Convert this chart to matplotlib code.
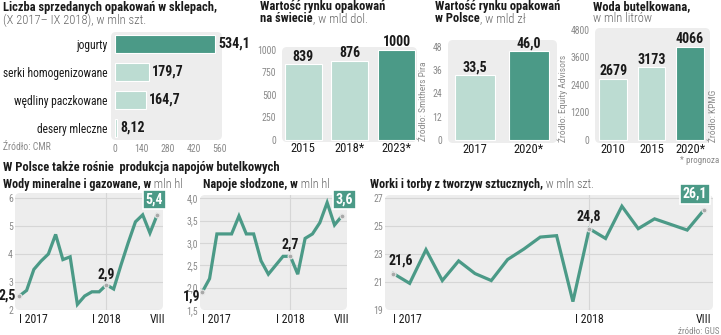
import numpy as np
import matplotlib.pyplot as plt
import matplotlib.font_manager as fm
from matplotlib.patches import FancyBboxPatch

W, H = 721, 335

# dane - panel 1
sklepy_kat = ['jogurty', 'serki homogenizowane', 'wędliny paczkowane', 'desery mleczne']
sklepy_val = [534.1, 179.7, 164.7, 8.12]
sklepy_ticks = [0, 140, 280, 420, 560]

# panel 2 - swiat, mld dol.
swiat_lata = ['2015', '2018*', '2023*']
swiat_val = [839, 876, 1000]
swiat_ticks = [0, 250, 500, 750, 1000]

# panel 3 - Polska, mld zl
polska_lata = ['2017', '2020*']
polska_val = [33.5, 46.0]
polska_ticks = [0, 12, 24, 36, 48]

# panel 4 - woda butelkowana
woda_lata = ['2010', '2015', '2020*']
woda_val = [2679, 3173, 4066]
woda_ticks = [0, 1200, 2400, 3600, 4800]

# wykresy liniowe: I 2017 - VIII 2018
okres_pos = [0, 12, 19]
okres_lab = ['I 2017', 'I 2018', 'VIII']
mineralne = [2.5, 2.7, 3.45, 3.75, 4.0, 4.7, 3.8, 3.9, 2.2, 2.5, 2.65, 2.65,
             2.9, 2.75, 3.6, 4.4, 5.15, 5.4, 4.75, 5.4]
slodzone = [1.9, 2.2, 3.2, 3.2, 3.2, 3.6, 3.2, 3.2, 2.6, 2.3, 2.5, 2.7,
            2.7, 2.3, 3.1, 3.2, 3.45, 3.9, 3.4, 3.6]
worki = [21.6, 20.9, 23.3, 21.1, 22.5, 21.6, 21.1, 22.6, 23.35, 24.2, 24.3, 19.6,
         24.8, 24.1, 26.4, 24.8, 25.5, 25.1, 24.7, 26.1]

DARK = '#4b9a87'
LIGHT = '#bcdcd2'
BG = '#ededed'
GRID = '#d6d6d6'
TXT = '#1a1a1a'
GREY = '#8a8a8a'

avail = {f.name for f in fm.fontManager.ttflist}
NARROW = next((f for f in ['Roboto Condensed', 'Liberation Sans Narrow', 'Open Sans Condensed']
               if f in avail), 'DejaVu Sans')
plt.rcParams['font.family'] = [NARROW, 'DejaVu Sans']

NUM = 10  # rozmiar etykiet wartosci


def pl(v):
    return str(v).replace('.', ',')


def pct(x0, y0, x1, y1):
    return [x0 / W, 1 - y1 / H, (x1 - x0) / W, (y1 - y0) / H]


fig = plt.figure(figsize=(W / 100, H / 100), dpi=100)
rend = fig.canvas.get_renderer()


def ftext(x, y, s, **kw):
    return fig.text(x / W, 1 - y / H, s, **kw)


def title(x, y, parts, size=9):
    for s, bold in parts:
        t = ftext(x, y, s, fontsize=size, va='baseline',
                  fontweight='bold' if bold else 'light',
                  color=TXT if bold else '#666666')
        x += t.get_window_extent(rend).width


def clean(ax, r=5):
    for s in ax.spines.values():
        s.set_visible(False)
    ax.set_facecolor('none')
    bb = ax.get_position()
    wpx, hpx = bb.width * W, bb.height * H
    ax.add_patch(FancyBboxPatch((0, 0), 1, 1, boxstyle=f'round,pad=0,rounding_size={r / wpx}',
                                mutation_aspect=wpx / hpx, transform=ax.transAxes,
                                fc=BG, ec='none', zorder=0, clip_on=False))
    ax.set_axisbelow(True)


# ---------- panel 1 ----------
title(3, 11.5, [('Liczba sprzedanych opakowań w sklepach,', True)])
title(3, 24, [('(X 2017– IX 2018), w mln szt.', False)])
ax = fig.add_axes(pct(111, 32, 222, 140))
clean(ax)
y = np.arange(len(sklepy_kat))
cols = [DARK] + [LIGHT] * 3
ax.barh(y, sklepy_val, height=0.64, color=cols, edgecolor='white', lw=0.8, zorder=2)
ax.set_xlim(-21.3, 570.7)
ax.set_ylim(3.43, -0.43)
ax.set_yticks(y, sklepy_kat)
ax.set_xticks(sklepy_ticks, [str(t) for t in sklepy_ticks])
ax.tick_params(axis='y', length=0, pad=2.5, labelsize=8.3, labelcolor=TXT)
ax.tick_params(axis='x', length=0, pad=3, labelsize=7, labelcolor=GREY)
for yi, v in zip(y, sklepy_val):
    ax.annotate(pl(v), (v, yi), xytext=(2.5, 0), textcoords='offset points', ha='left',
                va='center', fontsize=NUM, fontweight='bold', color=TXT, annotation_clip=False)
ftext(3, 147, 'Źródło: CMR', fontsize=7, color=GREY, va='center')


def bar_panel(box, lata, vals, ticks, xlim, ylim, width, dark_from):
    ax = fig.add_axes(pct(*box))
    clean(ax)
    x = np.arange(len(lata))
    cols = [LIGHT if i < dark_from else DARK for i in x]
    ax.bar(x, vals, width=width, color=cols, edgecolor='white', lw=0.8, zorder=2)
    ax.set_xlim(xlim)
    ax.set_ylim(ylim)
    ax.set_xticks(x, lata)
    ax.set_yticks(ticks, [str(t) for t in ticks])
    ax.tick_params(axis='x', length=0, pad=0, labelsize=9, labelcolor=TXT)
    ax.tick_params(axis='y', length=0, pad=4, labelsize=7, labelcolor=GREY)
    for xi, v in zip(x, vals):
        s = f'{v:.1f}'.replace('.', ',') if isinstance(v, float) else str(v)
        ax.annotate(s, (xi, v), xytext=(0, 0.5), textcoords='offset points', ha='center',
                    va='bottom', fontsize=NUM, fontweight='bold', color=TXT, annotation_clip=False)
    return ax


# ---------- panel 2 ----------
title(260, 10, [('Wartość rynku opakowań', True)])
title(260, 22, [('na świecie', True), (', w mld dol.', False)])
bar_panel((282, 47, 417, 142), swiat_lata, swiat_val, swiat_ticks,
          (-0.45, 2.43), (-22.2, 1033), 0.79, 2)
ftext(423, 141, 'Źródło: Smithers Pira', rotation=90, fontsize=6.8, color=GREY, ha='center', va='bottom')

# ---------- panel 3 ----------
title(435, 10, [('Wartość rynku opakowań', True)])
title(435, 22, [('w Polsce', True), (', w mld zł', False)])
bar_panel((448, 40, 557, 143), polska_lata, polska_val, polska_ticks,
          (-0.5, 1.52), (-1.55, 51.6), 0.74, 1)
ftext(563, 142, 'Źródło: Equity Advisors', rotation=90, fontsize=6.8, color=GREY, ha='center', va='bottom')

# ---------- panel 4 ----------
title(593, 10, [('Woda butelkowana,', True)])
title(593, 22, [('w mln litrów', False)])
bar_panel((595, 28, 710, 143), woda_lata, woda_val, woda_ticks,
          (-0.47, 2.52), (-131, 4887), 0.72, 2)
ftext(714, 142, 'Źródło: KPMG', rotation=90, fontsize=6.8, color=GREY, ha='center', va='bottom')
ftext(719, 160, '* prognoza', fontsize=6.5, color=GREY, ha='right', va='center')

# ---------- linie ----------
title(3, 171, [('W Polsce także rośnie  produkcja napojów butelkowych', True)])


def line_panel(box, vals, ticks, tlabels, xlim, ylim):
    ax = fig.add_axes(pct(*box))
    clean(ax)
    x = np.arange(len(vals))
    ax.plot(x, vals, color=DARK, lw=2.3, solid_joinstyle='miter', zorder=3)
    ax.plot(x[okres_pos], np.array(vals)[okres_pos], 'o', ms=3.5, mfc='#a8a8a8',
            mec='#e8e8e8', mew=0.8, zorder=4)
    ax.set_xlim(xlim)
    ax.set_ylim(ylim)
    ax.set_yticks(ticks, tlabels)
    ax.set_xticks(okres_pos, okres_lab)
    ax.get_xticklabels()[0].set_ha('left')
    ax.grid(axis='y', color=GRID, lw=0.8)
    ax.axvline(12, color=GRID, lw=0.8, zorder=1)
    ax.tick_params(axis='x', length=0, pad=2.5, labelsize=8.5, labelcolor=TXT)
    ax.tick_params(axis='y', length=0, pad=1.5, labelsize=7, labelcolor=GREY)
    return ax


def lab(ax, i, v, s, dx, dy, ha, va):
    ax.annotate(s, (i, v), xytext=(dx, dy), textcoords='offset points', ha=ha, va=va,
                fontsize=NUM, fontweight='bold', color=TXT, annotation_clip=False, zorder=5)


def box_lab(ax, i, v, s, dx, dy):
    ax.annotate(s, (i, v), xytext=(dx, dy), textcoords='offset points', ha='center', va='center',
                fontsize=NUM, fontweight='bold', color='white', annotation_clip=False, zorder=6,
                bbox=dict(boxstyle='square,pad=0.2', fc=DARK, ec='white', lw=1.2))


# wody mineralne
title(3, 188, [('Wody mineralne i gazowane, w', True), (' mln hl', False)], size=8.7)
ax = line_panel((15, 193, 163, 310), mineralne, [2, 3, 4, 5, 6], ['2', '3', '4', '5', '6'],
                (-0.6, 19.8), (2, 6.18))
lab(ax, 0, mineralne[0], pl(mineralne[0]), -2.5, 0, 'right', 'center')
lab(ax, 12, mineralne[12], pl(mineralne[12]), 0, 2.5, 'center', 'bottom')
box_lab(ax, 19, mineralne[19], pl(mineralne[19]), -2, 11)

# napoje slodzone
title(203, 188, [('Napoje słodzone, w', True), (' mln hl', False)], size=8.7)
st = [1.5, 2.0, 2.5, 3.0, 3.5, 4.0]
ax = line_panel((200, 195, 347, 310), slodzone, st, [pl(t) for t in st],
                (-0.3, 19.7), (1.5, 4.07))
lab(ax, 0, slodzone[0], pl(slodzone[0]), -1.5, -3, 'right', 'center')
lab(ax, 12, slodzone[12], pl(slodzone[12]), 0, 3.5, 'center', 'bottom')
box_lab(ax, 19, slodzone[19], pl(slodzone[19]), 2, 12)

# worki i torby
title(370, 188, [('Worki i torby z tworzyw sztucznych,', True), (' w mln szt.', False)], size=8.7)
wt = [19, 21, 23, 25, 27]
ax = line_panel((385, 195, 713, 310), worki, wt, [str(t) for t in wt],
                (-0.51, 19.58), (19, 27.2))
lab(ax, 0, worki[0], pl(worki[0]), -3.6, 4, 'left', 'bottom')
lab(ax, 12, worki[12], pl(worki[12]), 0, 3.5, 'center', 'bottom')
box_lab(ax, 19, worki[19], pl(worki[19]), -6, 12)

ftext(719, 331, 'źródło: GUS', fontsize=6.5, color=GREY, ha='right', va='center')

fig.savefig('out.png', dpi=100)
